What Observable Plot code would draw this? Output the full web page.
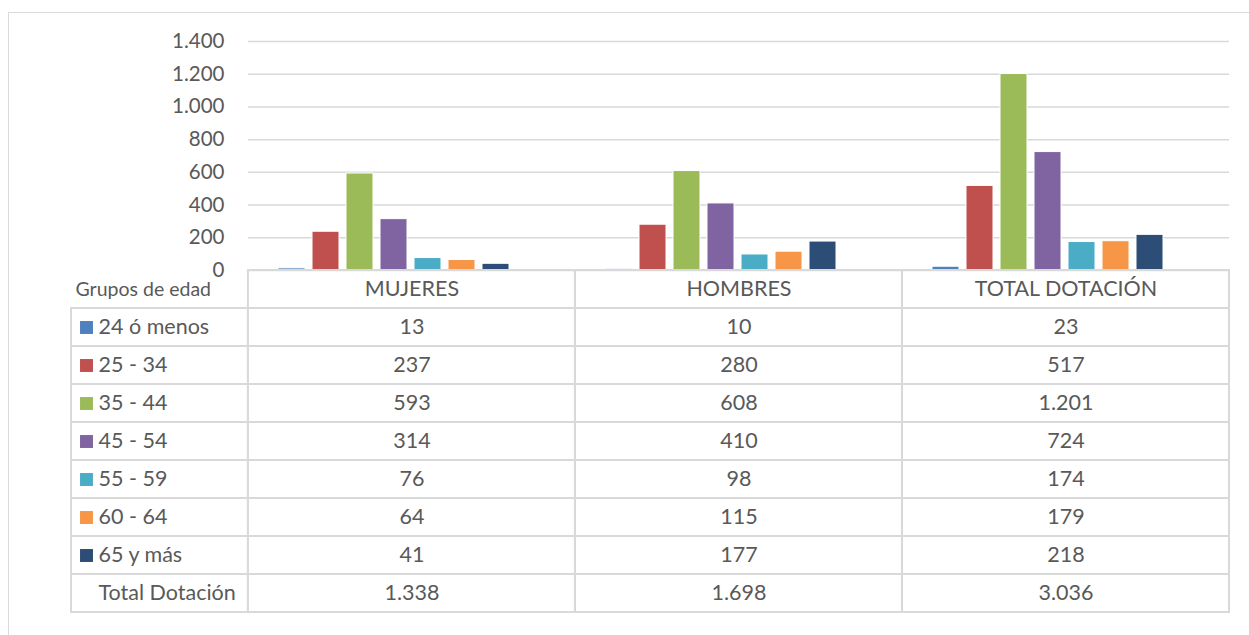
<!DOCTYPE html>
<html>
<head>
<meta charset="utf-8">
<script src="https://cdn.jsdelivr.net/npm/d3@7"></script>
<script src="https://cdn.jsdelivr.net/npm/@observablehq/plot@0.6"></script>
<style>
  html, body { margin: 0; padding: 0; background: #fff; width: 1249px; height: 635px; overflow: hidden; }
  #frame { position: absolute; left: 8px; top: 12px; width: 1400px; height: 800px; border: 1.5px solid #d9d9d9; box-sizing: border-box; }
  #chart, #table { position: absolute; left: 0; top: 0; }
  svg { overflow: visible; }
</style>
</head>
<body>
<div id="frame"></div>
<div id="chart"></div>
<div id="table"></div>
<script>
// ---- data ----
const groups = ["MUJERES", "HOMBRES", "TOTAL DOTACIÓN"];
const ages = ["24 ó menos", "25 - 34", "35 - 44", "45 - 54", "55 - 59", "60 - 64", "65 y más"];
const mujeres = [13, 237, 593, 314, 76, 64, 41];
const hombres = [10, 280, 608, 410, 98, 115, 177];
const totalDotacion = [23, 517, 1201, 724, 174, 179, 218];
const totals = [1338, 1698, 3036];
const yTicks = [0, 200, 400, 600, 800, 1000, 1200, 1400];
const colors = ["#4F81BD", "#C0504D", "#9BBB59", "#8064A2", "#4BACC6", "#F79646", "#2C4D75"];
const headerLabel = "Grupos de edad";
const totalLabel = "Total Dotación";

const es = d3.formatLocale({decimal: ",", thousands: ".", grouping: [3], currency: ["$", ""]});
const fmt = es.format(",");
const textColor = "#595959";
const gridColor = "#d9d9d9";
const font = "Lato, 'Open Sans', sans-serif";
const tableFont = 21.5;

const series = [mujeres, hombres, totalDotacion];
const bars = [];
groups.forEach((g, gi) => ages.forEach((a, ai) => bars.push({group: g, age: a, value: series[gi][ai]})));

const chart = Plot.plot({
  width: 1249, height: 280,
  marginTop: 41, marginBottom: 10, marginLeft: 248, marginRight: 20,
  style: {background: "transparent", fontFamily: font, overflow: "visible"},
  fx: {domain: groups, padding: 0, axis: null},
  x: {domain: ages, paddingInner: 0.215, paddingOuter: 1.36, align: 0.314, axis: null},
  y: {domain: [0, 1400], axis: null},
  color: {domain: ages, range: colors},
  marks: [
    Plot.gridY(yTicks, {stroke: gridColor, strokeOpacity: 1, strokeWidth: 1.5}),
    Plot.barY(bars, {fx: "group", x: "age", y: "value", fill: "age", stroke: "white", strokeWidth: 1}),
    Plot.axisY({ticks: yTicks, tickSize: 0, tickPadding: 24, tickFormat: fmt, fontSize: 20.5, fill: textColor, label: null})
  ]
});
document.getElementById("chart").appendChild(chart);

// ---- table ----
const LABEL_LEFT = -0.541;
const cells = [];
groups.forEach((g, c) => cells.push({x1: c, x2: c + 1, y1: 0, y2: 1}));
for (let r = 1; r <= ages.length + 1; r++) {
  cells.push({x1: LABEL_LEFT, x2: 0, y1: r, y2: r + 1});
  groups.forEach((g, c) => cells.push({x1: c, x2: c + 1, y1: r, y2: r + 1}));
}
const headerTexts = groups.map((g, c) => ({x: c + 0.5, y: 0.5, text: g}));
const valueTexts = [];
ages.forEach((a, ai) => series.forEach((s, c) => valueTexts.push({x: c + 0.5, y: ai + 1.5, text: fmt(s[ai])})));
totals.forEach((t, c) => valueTexts.push({x: c + 0.5, y: ages.length + 1.5, text: fmt(t)}));
const rowLabels = ages.map((a, ai) => ({age: a, y: ai + 1.5}));

const table = Plot.plot({
  width: 1249, height: 635,
  marginTop: 270, marginBottom: 23, marginLeft: 71, marginRight: 20,
  style: {background: "transparent", fontFamily: font, overflow: "visible"},
  x: {type: "linear", domain: [LABEL_LEFT, 3], axis: null},
  y: {type: "linear", domain: [0, 9], range: [270, 612], axis: null},
  color: {domain: ages, range: colors},
  marks: [
    Plot.rect(cells, {x1: "x1", x2: "x2", y1: "y1", y2: "y2", fill: "none", stroke: gridColor, strokeWidth: 2}),
    Plot.text(headerTexts, {x: "x", y: "y", text: "text", fontSize: tableFont, fill: textColor}),
    Plot.text(valueTexts, {x: "x", y: "y", text: "text", fontSize: tableFont, fill: textColor}),
    Plot.text([headerLabel], {x: LABEL_LEFT, y: 0.5, text: d => d, dx: 4, textAnchor: "start", fontSize: 19.5, fill: textColor}),
    Plot.dot(rowLabels, {x: () => LABEL_LEFT, y: "y", dx: 15, symbol: "square", r: 7.3, fill: "age", stroke: null}),
    Plot.text(rowLabels, {x: () => LABEL_LEFT, y: "y", text: "age", dx: 27, textAnchor: "start", fontSize: tableFont, fill: textColor}),
    Plot.text([totalLabel], {x: LABEL_LEFT, y: ages.length + 1.5, text: d => d, dx: 27, textAnchor: "start", fontSize: tableFont, fill: textColor})
  ]
});
document.getElementById("table").appendChild(table);
</script>
</body>
</html>
